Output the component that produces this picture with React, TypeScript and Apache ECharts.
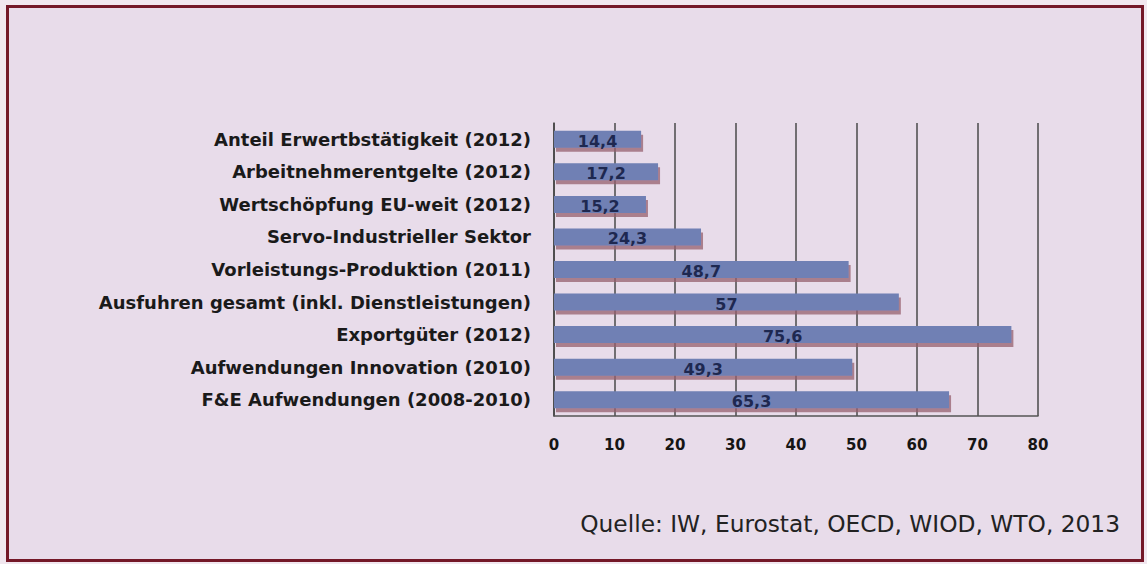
import React, { useEffect, useRef } from "react";
import * as echarts from "echarts";

const categories = [
  "Anteil Erwertbstätigkeit (2012)",
  "Arbeitnehmerentgelte (2012)",
  "Wertschöpfung EU-weit (2012)",
  "Servo-Industrieller Sektor",
  "Vorleistungs-Produktion (2011)",
  "Ausfuhren gesamt (inkl. Dienstleistungen)",
  "Exportgüter (2012)",
  "Aufwendungen Innovation (2010)",
  "F&E Aufwendungen (2008-2010)",
];
const values = [14.4, 17.2, 15.2, 24.3, 48.7, 57, 75.6, 49.3, 65.3];
const sourceText = "Quelle: IW, Eurostat, OECD, WIOD, WTO, 2013";

export default function App() {
  const ref = useRef<HTMLDivElement>(null);
  useEffect(() => {
    if (!ref.current) return;
    const chart = echarts.init(ref.current, undefined, { renderer: "svg" });
    chart.setOption({
      animation: false,
      backgroundColor: "#f1e7ef",
      graphic: [
        {
          type: "rect",
          z: -10,
          shape: { x: 7.5, y: 6.5, width: 1135, height: 554 },
          style: { fill: "#e8dcea", stroke: "#741828", lineWidth: 3 },
        },
        {
          type: "text",
          right: 27,
          top: 512,
          style: {
            text: sourceText,
            font: "23.3px 'DejaVu Sans'",
            fill: "#222222",
          },
        },
      ],
      grid: { left: 554, right: 109, top: 123, bottom: 148 },
      xAxis: {
        type: "value",
        min: 0,
        max: 80,
        interval: 10,
        axisLine: { show: true, lineStyle: { color: "#555555", width: 1.5 } },
        axisTick: { show: false },
        axisLabel: {
          margin: 21,
          color: "#151515",
          fontFamily: "DejaVu Sans",
          fontSize: 15,
          fontWeight: "bold",
        },
        splitLine: { show: true, lineStyle: { color: "#4a4a4a", width: 1.5 } },
      },
      yAxis: {
        type: "category",
        data: categories,
        inverse: true,
        axisLine: { show: true, lineStyle: { color: "#444444", width: 1.5 } },
        axisTick: { show: false },
        axisLabel: {
          margin: 23,
          color: "#1a1a1a",
          fontFamily: "DejaVu Sans",
          fontSize: 18,
          fontWeight: "bold",
        },
      },
      series: [
        {
          type: "bar",
          data: values,
          barWidth: 17,
          itemStyle: {
            color: "#6f80b4",
            shadowColor: "rgba(150,95,110,0.75)",
            shadowOffsetY: 4,
            shadowOffsetX: 2,
            shadowBlur: 1,
          },
          label: {
            show: true,
            position: "inside",
            offset: [0, 2],
            color: "#1e2850",
            fontFamily: "DejaVu Sans",
            fontSize: 16,
            fontWeight: "bold",
            formatter: (p: any) => String(p.value).replace(".", ","),
          },
        },
      ],
    });
    return () => chart.dispose();
  }, []);
  return (
    <div
      ref={ref}
      style={{ position: "fixed", left: 0, top: 0, width: 1147, height: 564 }}
    />
  );
}
